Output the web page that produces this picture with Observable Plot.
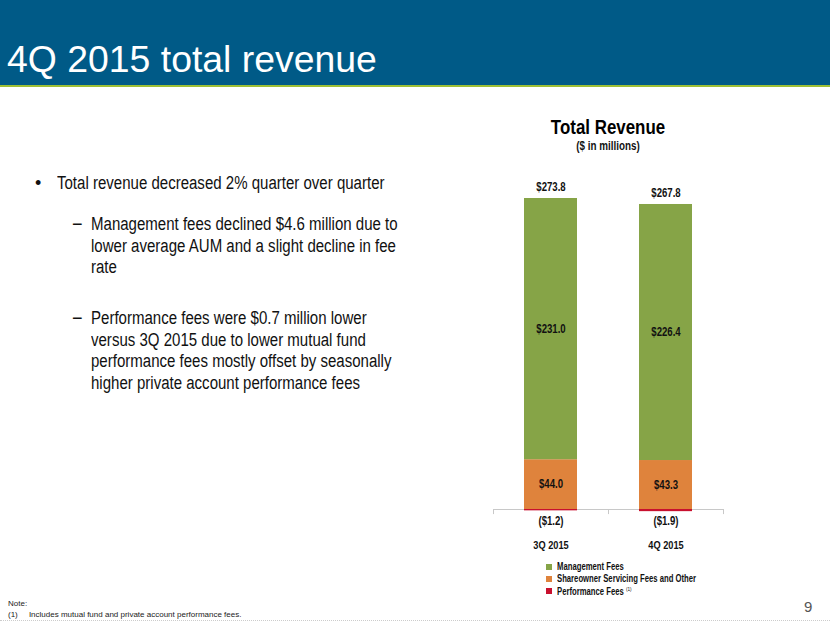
<!DOCTYPE html>
<html>
<head>
<meta charset="utf-8">
<script src="https://cdn.jsdelivr.net/npm/d3@7"></script>
<script src="https://cdn.jsdelivr.net/npm/@observablehq/plot@0.6"></script>
<style>
  html, body { margin: 0; padding: 0; background: #fff; }
  body { width: 830px; height: 623px; position: relative; overflow: hidden; font-family: "Liberation Sans", Arial, sans-serif; }
  #header { position: absolute; left: 0; top: 0; width: 830px; height: 85px; background: #005a87; }
  #header-line { position: absolute; left: 0; top: 85px; width: 830px; height: 2px; background: #9dbf35; }
  #title { position: absolute; left: 7px; top: 38px; color: #fff; font-size: 37px; line-height: 44px; white-space: nowrap; transform: scaleX(1.01); transform-origin: left center; }
  .txt { position: absolute; font-size: 18px; line-height: 21.5px; color: #111; white-space: nowrap; }
  .nar { transform: scaleX(0.835); transform-origin: left top; }
  #chart { position: absolute; left: 480px; top: 160px; }
  #ctitle { position: absolute; left: 480px; top: 116px; width: 256px; text-align: center; font-weight: bold; font-size: 20px; color: #000; transform: scaleX(0.845); transform-origin: center; }
  #csub { position: absolute; left: 480px; top: 139px; width: 256px; text-align: center; font-weight: bold; font-size: 12px; color: #111; transform: scaleX(0.82); transform-origin: center; }
  #legend { position: absolute; left: 546px; top: 561px; font-weight: bold; font-size: 10px; color: #111; }
  .li { height: 12px; line-height: 12px; display: flex; align-items: center; }
  .sw { width: 6px; height: 6px; margin-right: 5px; display: inline-block; }
  .lt { display: inline-block; transform: scaleX(0.77); transform-origin: left center; }
  #note { position: absolute; left: 8px; top: 598px; font-size: 8px; color: #222; line-height: 11px; }
  #page { position: absolute; left: 804px; top: 598px; font-size: 15px; color: #555; }
  #foot { position: absolute; left: 0; top: 620px; width: 830px; border-top: 1px dotted #ccc; }
</style>
</head>
<body>
<div id="header"></div>
<div id="header-line"></div>
<div id="title">4Q 2015 total revenue</div>

<div class="txt" style="left:35px; top:173px;">•</div>
<div class="txt nar" style="left:57px; top:173px;">Total revenue decreased 2% quarter over quarter</div>
<div class="txt" style="left:72px; top:214px;">−</div>
<div class="txt nar" style="left:91px; top:214px;">Management fees declined $4.6 million due to<br>lower average AUM and a slight decline in fee<br>rate</div>
<div class="txt" style="left:72px; top:308px;">−</div>
<div class="txt nar" style="left:91px; top:308px;">Performance fees were $0.7 million lower<br>versus 3Q 2015 due to lower mutual fund<br>performance fees mostly offset by seasonally<br>higher private account performance fees</div>

<div id="ctitle">Total Revenue</div>
<div id="csub">($ in millions)</div>
<div id="chart"></div>
<div id="legend"></div>

<div id="note">Note:<br>(1)&nbsp;&nbsp;&nbsp;&nbsp;&nbsp;Includes mutual fund and private account performance fees.</div>
<div id="page">9</div>
<div id="foot"></div>

<script>
// ---- Data ----
const quarters = ["3Q 2015", "4Q 2015"];
const seriesNames = ["Shareowner Servicing Fees and Other", "Management Fees", "Performance Fees"];
const shareownerFees = [44.0, 43.3];
const managementFees = [231.0, 226.4];
const performanceFees = [-1.2, -1.9];
const totals = [273.8, 267.8];
const legendNames = ["Management Fees", "Shareowner Servicing Fees and Other", "Performance Fees"];
const colors = {"Management Fees": "#86a447", "Shareowner Servicing Fees and Other": "#df833c", "Performance Fees": "#c8102e"};

const fmt = v => v < 0 ? `($${Math.abs(v).toFixed(1)})` : `$${v.toFixed(1)}`;

const rows = [];
quarters.forEach((q, i) => {
  rows.push({q, i, series: seriesNames[0], value: shareownerFees[i]});
  rows.push({q, i, series: seriesNames[1], value: managementFees[i]});
  rows.push({q, i, series: seriesNames[2], value: performanceFees[i]});
});

// midpoints of positive segments for labels
const inside = [];
quarters.forEach((q, i) => {
  inside.push({i, y: shareownerFees[i] / 2, text: fmt(shareownerFees[i])});
  inside.push({i, y: shareownerFees[i] + managementFees[i] / 2, text: fmt(managementFees[i])});
});
const tops = quarters.map((q, i) => ({i, y: shareownerFees[i] + managementFees[i], text: fmt(totals[i])}));
const negs = quarters.map((q, i) => ({i, text: fmt(performanceFees[i])}));
const cats = quarters.map((q, i) => ({i, text: q}));

const chart = Plot.plot({
  width: 260,
  height: 400,
  marginLeft: 13,
  marginRight: 17,
  marginTop: 0,
  marginBottom: 0,
  x: {domain: [0, quarters.length], axis: null},
  y: {domain: [-45.1, 308.6], axis: null},
  style: {fontFamily: "'Liberation Sans', Arial, sans-serif", background: "transparent", overflow: "visible"},
  marks: [
    Plot.ruleY([0], {stroke: "#c8c8c8", strokeWidth: 1}),
    Plot.ruleX(d3.range(quarters.length + 1), {y1: 0, y2: -4.5, stroke: "#c8c8c8", strokeWidth: 1}),
    Plot.rectY(rows, Plot.stackY({
      x1: d => d.i, x2: d => d.i + 1, y: "value", z: "series",
      fill: d => colors[d.series], insetLeft: 31, insetRight: 31, order: null
    })),
    Plot.text(inside, {x: d => d.i + 0.5, y: "y", text: "text", fontWeight: "bold", fontSize: 12, fill: "#111"}),
    Plot.text(tops, {x: d => d.i + 0.5, y: "y", text: "text", dy: -11, fontWeight: "bold", fontSize: 12, fill: "#111"}),
    Plot.text(negs, {x: d => d.i + 0.5, y: 0, text: "text", dy: 12, fontWeight: "bold", fontSize: 12, fill: "#111"}),
    Plot.text(cats, {x: d => d.i + 0.5, y: 0, text: "text", dy: 36, fontWeight: "bold", fontSize: 11.5, fill: "#111"})
  ]
});
document.getElementById("chart").appendChild(chart);
// narrow the chart labels (the original uses a condensed face)
chart.querySelectorAll("text").forEach(t => {
  const L = t.getComputedTextLength();
  if (L > 0) {
    t.setAttribute("textLength", (L * 0.8).toFixed(2));
    t.setAttribute("lengthAdjust", "spacingAndGlyphs");
  }
});

const leg = document.getElementById("legend");
legendNames.forEach(n => {
  const div = document.createElement("div");
  div.className = "li";
  div.innerHTML = `<span class="sw" style="background:${colors[n]}"></span><span class="lt">${n}${n === "Performance Fees" ? ' <sup style="font-size:6px;font-weight:normal">(1)</sup>' : ''}</span>`;
  leg.appendChild(div);
});
</script>
</body>
</html>
